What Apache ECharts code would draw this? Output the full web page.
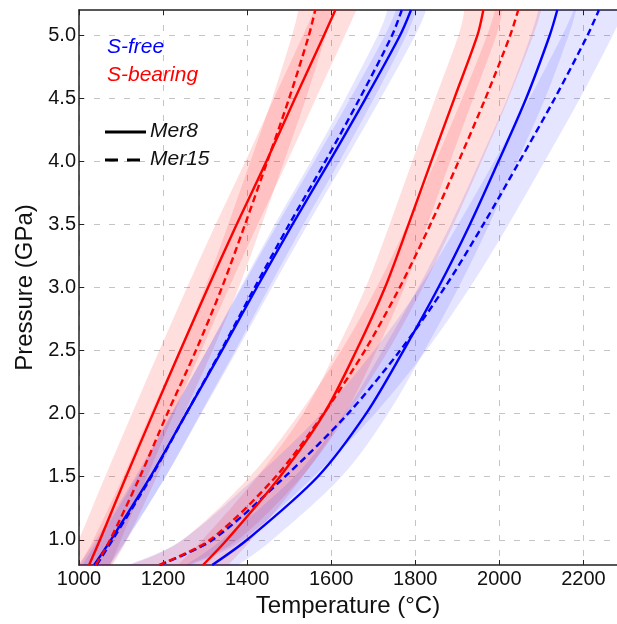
<!DOCTYPE html>
<html>
<head>
<meta charset="utf-8">
<script src="https://cdn.jsdelivr.net/npm/echarts@6/dist/echarts.min.js"></script>
<style>
html,body{margin:0;padding:0;background:#fff;}
#chart{width:617px;height:624px;}
</style>
</head>
<body>
<div id="chart"></div>
<script>
// ---- data (Temperature in °C at each pressure level, GPa) ----
const pressure = [0.8, 1.0, 1.5, 2.0, 2.5, 3.0, 3.5, 4.0, 4.5, 5.0, 5.2];

// lower-temperature group
const sBearingMer8A  = [1024, 1050, 1112, 1176, 1241, 1307, 1375, 1446, 1514, 1583, 1610];
const sBearingMer15A = [1040, 1074, 1145, 1210, 1278, 1340, 1395, 1448, 1500, 1547, 1562];
const sFreeMer8A     = [1036, 1076, 1170, 1255, 1340, 1423, 1508, 1596, 1682, 1764, 1790];
const sFreeMer15A    = [1042, 1080, 1172, 1255, 1338, 1418, 1500, 1586, 1668, 1745, 1768];

// higher-temperature group
const sBearingMer8B  = [1295, 1352, 1478, 1583, 1660, 1728, 1784, 1838, 1893, 1948, 1962];
const sBearingMer15B = [1190, 1312, 1468, 1582, 1680, 1763, 1836, 1903, 1967, 2026, 2045];
const sFreeMer8B     = [1317, 1400, 1568, 1683, 1772, 1855, 1930, 1998, 2064, 2120, 2138];
const sFreeMer15B    = [1192, 1318, 1490, 1640, 1764, 1870, 1962, 2048, 2132, 2210, 2237];

// uncertainty half-widths (°C)
const bandSBMer8A  = [50, 50, 50, 50, 50, 50, 50, 50, 50, 50, 50];
const bandSBMer15A = [40, 40, 40, 40, 40, 40, 40, 40, 40, 40, 40];
const bandSFMer8A  = [36, 36, 36, 36, 36, 36, 36, 36, 36, 36, 36];
const bandSFMer15A = [34, 34, 34, 34, 34, 34, 34, 34, 34, 34, 34];
const bandSBMer8B  = [60, 58, 54, 50, 48, 46, 45, 45, 45, 45, 45];
const bandSBMer15B = [68, 66, 62, 58, 56, 55, 55, 55, 55, 55, 55];
const bandSFMer8B  = [62, 60, 56, 52, 50, 48, 46, 45, 45, 45, 45];
const bandSFMer15B = [75, 72, 68, 64, 62, 60, 60, 60, 60, 60, 60];

const xTicks = [1000, 1200, 1400, 1600, 1800, 2000, 2200];
const yTicks = [1.0, 1.5, 2.0, 2.5, 3.0, 3.5, 4.0, 4.5, 5.0];

const RED = '#ff0000';
const BLUE = '#0000ff';
const FONT = '"Liberation Sans", Arial, Helvetica, sans-serif';

// Catmull-Rom smoothing of pixel points into an SVG path segment list
function smoothPath(pts, start) {
  let d = start ? ('M' + pts[0][0] + ' ' + pts[0][1]) : ('L' + pts[0][0] + ' ' + pts[0][1]);
  for (let i = 0; i < pts.length - 1; i++) {
    const p0 = pts[Math.max(i - 1, 0)], p1 = pts[i], p2 = pts[i + 1], p3 = pts[Math.min(i + 2, pts.length - 1)];
    const c1x = p1[0] + (p2[0] - p0[0]) / 6, c1y = p1[1] + (p2[1] - p0[1]) / 6;
    const c2x = p2[0] - (p3[0] - p1[0]) / 6, c2y = p2[1] - (p3[1] - p1[1]) / 6;
    d += ' C' + c1x + ' ' + c1y + ' ' + c2x + ' ' + c2y + ' ' + p2[0] + ' ' + p2[1];
  }
  return d;
}

function band(T, W, fill) {
  return {
    type: 'custom',
    coordinateSystem: 'cartesian2d',
    clip: true,
    silent: true,
    z: 1,
    encode: { x: [0, 1], y: 2 },
    data: pressure.map((p, i) => [T[i] - W[i], T[i] + W[i], p]),
    renderItem: function (params, api) {
      if (params.dataIndex !== 0) return null;
      const lo = [], hi = [];
      for (let i = 0; i < pressure.length; i++) lo.push(api.coord([T[i] - W[i], pressure[i]]));
      for (let i = pressure.length - 1; i >= 0; i--) hi.push(api.coord([T[i] + W[i], pressure[i]]));
      const d = smoothPath(lo, true) + ' ' + smoothPath(hi, false) + ' Z';
      return { type: 'path', shape: { pathData: d }, style: { fill: fill } };
    }
  };
}

function curve(T, color, dashed) {
  return {
    type: 'line',
    data: pressure.map((p, i) => [T[i], p]),
    showSymbol: false,
    smooth: 0.3,
    z: 3,
    lineStyle: { color: color, width: 2.4, type: dashed ? [7, 4] : 'solid' }
  };
}

const redBand = 'rgba(255,0,0,0.13)';
const blueBand = 'rgba(0,0,255,0.10)';

const chart = echarts.init(document.getElementById('chart'));
chart.setOption({
  animation: false,
  backgroundColor: '#ffffff',
  grid: { left: 79, right: 0, top: 10, bottom: 59 },
  xAxis: [{
    type: 'value', min: 1000, max: 2280,
    name: 'Temperature (°C)', nameLocation: 'middle', nameGap: 28,
    nameTextStyle: { fontSize: 24, color: '#111', fontFamily: FONT },
    axisLine: { show: true, lineStyle: { color: '#222', width: 1.5 } },
    axisTick: { show: true, inside: true, length: 5, customValues: xTicks, lineStyle: { color: '#222' } },
    axisLabel: { customValues: xTicks, fontSize: 20, color: '#111', margin: 4, fontFamily: FONT,
      formatter: v => String(Math.round(v)) },
    splitLine: { show: true, lineStyle: { color: '#c4c4c4', type: [6, 9], width: 1 } }
  }, {
    type: 'value', min: 1000, max: 2280, position: 'top',
    axisLine: { show: true, lineStyle: { color: '#222', width: 1.5 } },
    axisTick: { show: true, inside: true, length: 5, customValues: xTicks, lineStyle: { color: '#222' } },
    axisLabel: { show: false },
    splitLine: { show: false }
  }],
  yAxis: {
    type: 'value', min: 0.8, max: 5.2,
    name: 'Pressure (GPa)', nameLocation: 'middle', nameGap: 40,
    nameTextStyle: { fontSize: 24, color: '#111', fontFamily: FONT },
    axisLine: { show: true, lineStyle: { color: '#222', width: 1.5 } },
    axisTick: { show: true, inside: true, length: 5, customValues: yTicks, lineStyle: { color: '#222' } },
    axisLabel: { customValues: yTicks, fontSize: 20, color: '#111', margin: 3, fontFamily: FONT,
      formatter: v => Number(v).toFixed(1) },
    splitLine: { show: true, lineStyle: { color: '#c4c4c4', type: [6, 9], width: 1 } }
  },
  graphic: [
    { type: 'text', left: 107, top: 37, z: 10, style: { text: 'S-free', fontSize: 21, fontStyle: 'italic', fill: BLUE, fontFamily: FONT } },
    { type: 'text', left: 107, top: 65, z: 10, style: { text: 'S-bearing', fontSize: 21, fontStyle: 'italic', fill: RED, fontFamily: FONT } },
    { type: 'line', z: 10, shape: { x1: 105, y1: 132, x2: 146, y2: 132 }, style: { stroke: '#000', lineWidth: 3 } },
    { type: 'text', left: 150, top: 121, z: 10, style: { text: 'Mer8', fontSize: 21, fontStyle: 'italic', fill: '#111', fontFamily: FONT } },
    { type: 'line', z: 10, shape: { x1: 105, y1: 160, x2: 141, y2: 160 }, style: { stroke: '#000', lineWidth: 3, lineDash: [13, 9] } },
    { type: 'text', left: 150, top: 149, z: 10, style: { text: 'Mer15', fontSize: 21, fontStyle: 'italic', fill: '#111', fontFamily: FONT } }
  ],
  series: [
    band(sBearingMer8A, bandSBMer8A, redBand),
    band(sBearingMer15A, bandSBMer15A, redBand),
    band(sFreeMer8A, bandSFMer8A, blueBand),
    band(sFreeMer15A, bandSFMer15A, blueBand),
    band(sBearingMer8B, bandSBMer8B, redBand),
    band(sBearingMer15B, bandSBMer15B, redBand),
    band(sFreeMer8B, bandSFMer8B, blueBand),
    band(sFreeMer15B, bandSFMer15B, blueBand),
    curve(sFreeMer15A, BLUE, true),
    curve(sFreeMer8A, BLUE, false),
    curve(sBearingMer15A, RED, true),
    curve(sBearingMer8A, RED, false),
    curve(sFreeMer15B, BLUE, true),
    curve(sFreeMer8B, BLUE, false),
    curve(sBearingMer15B, RED, true),
    curve(sBearingMer8B, RED, false)
  ]
});
</script>
</body>
</html>
